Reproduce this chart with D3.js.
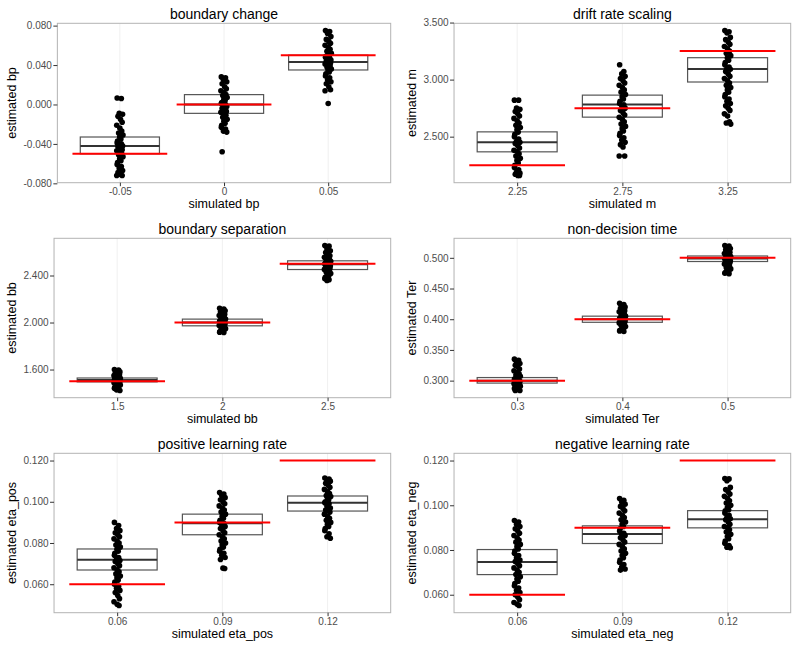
<!DOCTYPE html>
<html>
<head>
<meta charset="utf-8">
<script src="https://cdn.jsdelivr.net/npm/d3@7"></script>
<style>
  html, body { margin: 0; padding: 0; background: #fff; }
  svg { display: block; font-family: "Liberation Sans", Arial, sans-serif; }
</style>
</head>
<body>
<svg id="chart" width="800" height="648"></svg>
<script>
// ---------------- DATA ----------------
// boundary change
const bpCategories = ["-0.05", "0", "0.05"];
const bpTrue = [-0.05, 0, 0.05];
const bpTicks = [-0.08, -0.04, 0, 0.04, 0.08];
const bpQ1 = [-0.050, -0.009, 0.035];
const bpMedian = [-0.042, 0.000, 0.043];
const bpQ3 = [-0.033, 0.010, 0.050];
const bpPoints = [
  [0.0065, 0.0060, -0.009, -0.010, -0.012, -0.015, -0.018, -0.021, -0.024, -0.027, -0.029, -0.031, -0.033, -0.035, -0.037, -0.039, -0.040, -0.041, -0.042, -0.043, -0.044, -0.046, -0.047, -0.048, -0.050, -0.051, -0.053, -0.055, -0.057, -0.059, -0.061, -0.063, -0.065, -0.067, -0.069, -0.071, -0.072, -0.072],
  [0.028, 0.027, 0.025, 0.023, 0.021, 0.018, 0.016, 0.014, 0.012, 0.010, 0.009, 0.007, 0.005, 0.004, 0.002, 0.001, 0.000, -0.001, -0.002, -0.004, -0.005, -0.007, -0.008, -0.009, -0.011, -0.013, -0.015, -0.017, -0.019, -0.021, -0.023, -0.025, -0.027, -0.028, -0.048],
  [0.075, 0.074, 0.072, 0.069, 0.066, 0.064, 0.062, 0.060, 0.058, 0.056, 0.054, 0.052, 0.051, 0.050, 0.049, 0.048, 0.047, 0.046, 0.045, 0.044, 0.043, 0.042, 0.041, 0.040, 0.039, 0.038, 0.036, 0.035, 0.033, 0.031, 0.029, 0.027, 0.025, 0.023, 0.021, 0.018, 0.015, 0.014, 0.001]
];

// drift rate scaling
const mCategories = ["2.25", "2.75", "3.25"];
const mTrue = [2.25, 2.75, 3.25];
const mTicks = [2.5, 3.0, 3.5];
const mQ1 = [2.367, 2.671, 2.979];
const mMedian = [2.450, 2.781, 3.094];
const mQ3 = [2.542, 2.864, 3.192];
const mPoints = [
  [2.82, 2.82, 2.75, 2.74, 2.72, 2.70, 2.68, 2.66, 2.64, 2.62, 2.60, 2.58, 2.56, 2.54, 2.52, 2.50, 2.48, 2.46, 2.45, 2.44, 2.42, 2.40, 2.38, 2.37, 2.35, 2.33, 2.31, 2.29, 2.27, 2.25, 2.23, 2.21, 2.19, 2.18, 2.17, 2.16, 2.16],
  [3.13, 3.07, 3.05, 3.03, 3.01, 2.99, 2.97, 2.95, 2.93, 2.91, 2.89, 2.87, 2.85, 2.83, 2.81, 2.79, 2.78, 2.77, 2.75, 2.73, 2.71, 2.69, 2.67, 2.65, 2.63, 2.61, 2.59, 2.57, 2.55, 2.53, 2.51, 2.49, 2.47, 2.45, 2.43, 2.41, 2.33, 2.33],
  [3.43, 3.42, 3.41, 3.37, 3.35, 3.33, 3.31, 3.29, 3.27, 3.25, 3.23, 3.21, 3.19, 3.17, 3.15, 3.13, 3.11, 3.10, 3.09, 3.07, 3.05, 3.03, 3.01, 2.99, 2.97, 2.95, 2.93, 2.91, 2.89, 2.87, 2.85, 2.83, 2.81, 2.79, 2.77, 2.75, 2.73, 2.70, 2.68, 2.63, 2.62, 2.61]
];

// boundary separation
const bbCategories = ["1.5", "2", "2.5"];
const bbTrue = [1.5, 2.0, 2.5];
const bbTicks = [1.6, 2.0, 2.4];
const bbQ1 = [1.495, 1.972, 2.451];
const bbMedian = [1.510, 2.000, 2.495];
const bbQ3 = [1.528, 2.029, 2.525];
const bbPoints = [
  [1.600, 1.595, 1.588, 1.580, 1.570, 1.562, 1.555, 1.548, 1.541, 1.535, 1.530, 1.526, 1.522, 1.518, 1.514, 1.511, 1.508, 1.505, 1.502, 1.499, 1.496, 1.492, 1.488, 1.484, 1.479, 1.474, 1.468, 1.462, 1.455, 1.448, 1.440, 1.433, 1.427, 1.422],
  [2.122, 2.115, 2.108, 2.100, 2.090, 2.080, 2.070, 2.060, 2.050, 2.042, 2.035, 2.030, 2.025, 2.020, 2.015, 2.010, 2.005, 2.000, 1.995, 1.990, 1.985, 1.980, 1.975, 1.970, 1.963, 1.956, 1.948, 1.940, 1.932, 1.924, 1.918, 1.915],
  [2.655, 2.650, 2.628, 2.610, 2.595, 2.580, 2.568, 2.556, 2.545, 2.536, 2.528, 2.522, 2.516, 2.510, 2.504, 2.498, 2.492, 2.486, 2.480, 2.474, 2.467, 2.460, 2.452, 2.445, 2.436, 2.427, 2.417, 2.406, 2.395, 2.384, 2.373, 2.364, 2.358]
];

// non-decision time
const terCategories = ["0.3", "0.4", "0.5"];
const terTrue = [0.3, 0.4, 0.5];
const terTicks = [0.30, 0.35, 0.40, 0.45, 0.50];
const terQ1 = [0.296, 0.395, 0.494];
const terMedian = [0.300, 0.400, 0.499];
const terQ3 = [0.305, 0.405, 0.503];
const terPoints = [
  [0.335, 0.333, 0.330, 0.328, 0.325, 0.322, 0.319, 0.316, 0.313, 0.311, 0.309, 0.307, 0.305, 0.304, 0.303, 0.302, 0.301, 0.300, 0.299, 0.298, 0.297, 0.296, 0.295, 0.294, 0.293, 0.292, 0.291, 0.290, 0.289, 0.288, 0.287, 0.286, 0.285, 0.284, 0.284],
  [0.426, 0.424, 0.422, 0.420, 0.418, 0.416, 0.414, 0.412, 0.410, 0.409, 0.407, 0.405, 0.404, 0.403, 0.402, 0.401, 0.400, 0.399, 0.398, 0.397, 0.396, 0.395, 0.394, 0.393, 0.392, 0.390, 0.388, 0.386, 0.384, 0.382, 0.381, 0.380],
  [0.520, 0.519, 0.517, 0.515, 0.513, 0.511, 0.509, 0.507, 0.505, 0.504, 0.503, 0.502, 0.501, 0.500, 0.499, 0.498, 0.497, 0.496, 0.495, 0.494, 0.493, 0.492, 0.490, 0.488, 0.486, 0.484, 0.482, 0.480, 0.478, 0.476, 0.475, 0.474]
];

// positive learning rate
const etaPosCategories = ["0.06", "0.09", "0.12"];
const etaPosTrue = [0.06, 0.09, 0.12];
const etaPosTicks = [0.06, 0.08, 0.10, 0.12];
const etaPosQ1 = [0.0669, 0.0840, 0.0955];
const etaPosMedian = [0.0719, 0.0896, 0.0995];
const etaPosQ3 = [0.0771, 0.0940, 0.1028];
const etaPosPoints = [
  [0.0900, 0.0885, 0.0870, 0.0860, 0.0850, 0.0840, 0.0830, 0.0820, 0.0810, 0.0800, 0.0790, 0.0780, 0.0770, 0.0760, 0.0750, 0.0740, 0.0730, 0.0720, 0.0715, 0.0710, 0.0700, 0.0690, 0.0680, 0.0670, 0.0660, 0.0650, 0.0640, 0.0630, 0.0620, 0.0610, 0.0600, 0.0590, 0.0580, 0.0570, 0.0560, 0.0545, 0.0530, 0.0515, 0.0503, 0.0497],
  [0.1045, 0.1038, 0.1030, 0.1020, 0.1010, 0.1000, 0.0990, 0.0980, 0.0970, 0.0960, 0.0950, 0.0940, 0.0930, 0.0920, 0.0910, 0.0900, 0.0895, 0.0890, 0.0880, 0.0870, 0.0860, 0.0850, 0.0840, 0.0830, 0.0820, 0.0810, 0.0800, 0.0790, 0.0780, 0.0770, 0.0760, 0.0750, 0.0740, 0.0730, 0.0720, 0.0678, 0.0676],
  [0.1115, 0.1110, 0.1105, 0.1100, 0.1090, 0.1080, 0.1070, 0.1060, 0.1050, 0.1040, 0.1030, 0.1025, 0.1020, 0.1010, 0.1000, 0.0995, 0.0990, 0.0980, 0.0970, 0.0960, 0.0955, 0.0950, 0.0940, 0.0930, 0.0920, 0.0910, 0.0900, 0.0890, 0.0880, 0.0870, 0.0860, 0.0845, 0.0830, 0.0823]
];

// negative learning rate
const etaNegCategories = ["0.06", "0.09", "0.12"];
const etaNegTrue = [0.06, 0.09, 0.12];
const etaNegTicks = [0.06, 0.08, 0.10, 0.12];
const etaNegQ1 = [0.0690, 0.0829, 0.0899];
const etaNegMedian = [0.0746, 0.0872, 0.0938];
const etaNegQ3 = [0.0802, 0.0908, 0.0976];
const etaNegPoints = [
  [0.0932, 0.0925, 0.0915, 0.0905, 0.0895, 0.0885, 0.0875, 0.0865, 0.0855, 0.0845, 0.0835, 0.0825, 0.0815, 0.0805, 0.0795, 0.0785, 0.0775, 0.0765, 0.0755, 0.0748, 0.0740, 0.0730, 0.0720, 0.0710, 0.0700, 0.0690, 0.0680, 0.0670, 0.0660, 0.0650, 0.0640, 0.0630, 0.0620, 0.0610, 0.0600, 0.0590, 0.0578, 0.0565, 0.0557, 0.0552],
  [0.1030, 0.1022, 0.1015, 0.1005, 0.0995, 0.0985, 0.0975, 0.0965, 0.0955, 0.0945, 0.0935, 0.0925, 0.0915, 0.0905, 0.0895, 0.0885, 0.0875, 0.0870, 0.0865, 0.0855, 0.0845, 0.0835, 0.0825, 0.0815, 0.0805, 0.0795, 0.0785, 0.0775, 0.0765, 0.0755, 0.0745, 0.0735, 0.0724, 0.0715, 0.0710],
  [0.1120, 0.1118, 0.1110, 0.1080, 0.1070, 0.1060, 0.1050, 0.1040, 0.1030, 0.1020, 0.1010, 0.1000, 0.0990, 0.0980, 0.0975, 0.0965, 0.0955, 0.0945, 0.0940, 0.0935, 0.0925, 0.0915, 0.0905, 0.0900, 0.0890, 0.0880, 0.0870, 0.0860, 0.0850, 0.0840, 0.0830, 0.0820, 0.0812, 0.0810]
];

// deterministic horizontal jitter pattern (fraction of category step)
const jitterPattern = [-0.026, 0.014, -0.006, 0.026, -0.018, 0.006, 0.022, -0.03, 0.0, 0.018, -0.012, 0.03, -0.002, 0.01, -0.022];

// ---------------- PANELS ----------------
const panels = [
  { title: "boundary change", xLabel: "simulated bp", yLabel: "estimated bp",
    cats: bpCategories, trueVals: bpTrue, ticks: bpTicks, q1: bpQ1, med: bpMedian, q3: bpQ3, points: bpPoints },
  { title: "drift rate scaling", xLabel: "simulated m", yLabel: "estimated m",
    cats: mCategories, trueVals: mTrue, ticks: mTicks, q1: mQ1, med: mMedian, q3: mQ3, points: mPoints },
  { title: "boundary separation", xLabel: "simulated bb", yLabel: "estimated bb",
    cats: bbCategories, trueVals: bbTrue, ticks: bbTicks, q1: bbQ1, med: bbMedian, q3: bbQ3, points: bbPoints },
  { title: "non-decision time", xLabel: "simulated Ter", yLabel: "estimated Ter",
    cats: terCategories, trueVals: terTrue, ticks: terTicks, q1: terQ1, med: terMedian, q3: terQ3, points: terPoints },
  { title: "positive learning rate", xLabel: "simulated eta_pos", yLabel: "estimated eta_pos",
    cats: etaPosCategories, trueVals: etaPosTrue, ticks: etaPosTicks, q1: etaPosQ1, med: etaPosMedian, q3: etaPosQ3, points: etaPosPoints },
  { title: "negative learning rate", xLabel: "simulated eta_neg", yLabel: "estimated eta_neg",
    cats: etaNegCategories, trueVals: etaNegTrue, ticks: etaNegTicks, q1: etaNegQ1, med: etaNegMedian, q3: etaNegQ3, points: etaNegPoints }
];

// ---------------- RENDER ----------------
const svg = d3.select("#chart");
const fmt = d3.formatLocale({ decimal: ".", thousands: ",", grouping: [3], currency: ["", ""], minus: "-" }).format(".3f");

const TICK_FONT = 10;
const measure = svg.append("text").attr("font-size", TICK_FONT).attr("visibility", "hidden");
function textWidth(s) { measure.text(s); return measure.node().getComputedTextLength(); }

panels.forEach((p, i) => {
  const col = i % 2, row = Math.floor(i / 2);
  const colX = col * 400, rowY = row * 215;
  const maxW = d3.max(p.ticks, t => textWidth(fmt(t)));
  const left = colX + 29 + maxW;
  const right = colX + 390.7;
  const top = rowY + 23.3;
  const bottom = rowY + 182.7;

  const allVals = p.points.flat().concat(p.trueVals);
  const [mn, mx] = d3.extent(allVals);
  const pad = (mx - mn) * 0.05;
  const y = d3.scaleLinear().domain([mn - pad, mx + pad]).range([bottom, top]);
  const x = d3.scalePoint().domain(p.cats).range([left, right]).padding(0.6);
  const step = x.step();

  const g = svg.append("g");

  g.append("rect").attr("x", left).attr("y", top).attr("width", right - left).attr("height", bottom - top)
    .attr("fill", "#ffffff");

  g.selectAll(".grid").data(p.cats).join("line")
    .attr("x1", d => x(d)).attr("x2", d => x(d)).attr("y1", top).attr("y2", bottom)
    .attr("stroke", "#ececec").attr("stroke-width", 0.8);

  const boxW = 0.76 * step;
  g.selectAll(".box").data(p.cats).join("rect")
    .attr("x", d => x(d) - boxW / 2)
    .attr("y", (d, k) => y(p.q3[k]))
    .attr("width", boxW)
    .attr("height", (d, k) => y(p.q1[k]) - y(p.q3[k]))
    .attr("fill", "#ffffff").attr("stroke", "#555555").attr("stroke-width", 1.2);
  g.selectAll(".med").data(p.cats).join("line")
    .attr("x1", d => x(d) - boxW / 2).attr("x2", d => x(d) + boxW / 2)
    .attr("y1", (d, k) => y(p.med[k])).attr("y2", (d, k) => y(p.med[k]))
    .attr("stroke", "#333333").attr("stroke-width", 2);

  const pts = [];
  p.points.forEach((arr, k) => arr.forEach((v, j) => pts.push({ c: p.cats[k], v, j })));
  g.selectAll(".pt").data(pts).join("circle")
    .attr("cx", d => x(d.c) + jitterPattern[d.j % jitterPattern.length] * step)
    .attr("cy", d => y(d.v))
    .attr("r", 2.8)
    .attr("fill", "#000000");

  const redW = 0.91 * step;
  g.selectAll(".truth").data(p.cats).join("line")
    .attr("x1", d => x(d) - redW / 2).attr("x2", d => x(d) + redW / 2)
    .attr("y1", (d, k) => y(p.trueVals[k])).attr("y2", (d, k) => y(p.trueVals[k]))
    .attr("stroke", "#ff0000").attr("stroke-width", 2);

  g.append("rect").attr("x", left).attr("y", top).attr("width", right - left).attr("height", bottom - top)
    .attr("fill", "none").attr("stroke", "#b3b3b3").attr("stroke-width", 1);

  const ya = g.append("g").attr("transform", `translate(${left},0)`)
    .call(d3.axisLeft(y).tickValues(p.ticks).tickFormat(fmt).tickSize(4).tickPadding(1.5));
  ya.select(".domain").remove();
  ya.selectAll(".tick line").attr("stroke", "#333333");
  ya.selectAll(".tick text").attr("fill", "#4d4d4d").attr("font-size", TICK_FONT)
    .attr("font-family", "Liberation Sans, Arial, sans-serif");

  const xa = g.append("g").attr("transform", `translate(0,${bottom})`)
    .call(d3.axisBottom(x).tickSize(3.5).tickPadding(2.2));
  xa.select(".domain").remove();
  xa.selectAll(".tick line").attr("stroke", "#333333");
  xa.selectAll(".tick text").attr("fill", "#4d4d4d").attr("font-size", TICK_FONT)
    .attr("font-family", "Liberation Sans, Arial, sans-serif");

  g.append("text").attr("x", (left + right) / 2).attr("y", rowY + 18.5)
    .attr("text-anchor", "middle").attr("font-size", 14).attr("fill", "#000").text(p.title);
  g.append("text").attr("x", (left + right) / 2).attr("y", rowY + 208)
    .attr("text-anchor", "middle").attr("font-size", 12.5).attr("fill", "#000").text(p.xLabel);
  g.append("text").attr("transform", `translate(${colX + 16},${(top + bottom) / 2}) rotate(-90)`)
    .attr("text-anchor", "middle").attr("font-size", 12.5).attr("fill", "#000").text(p.yLabel);
});
measure.remove();
</script>
</body>
</html>
